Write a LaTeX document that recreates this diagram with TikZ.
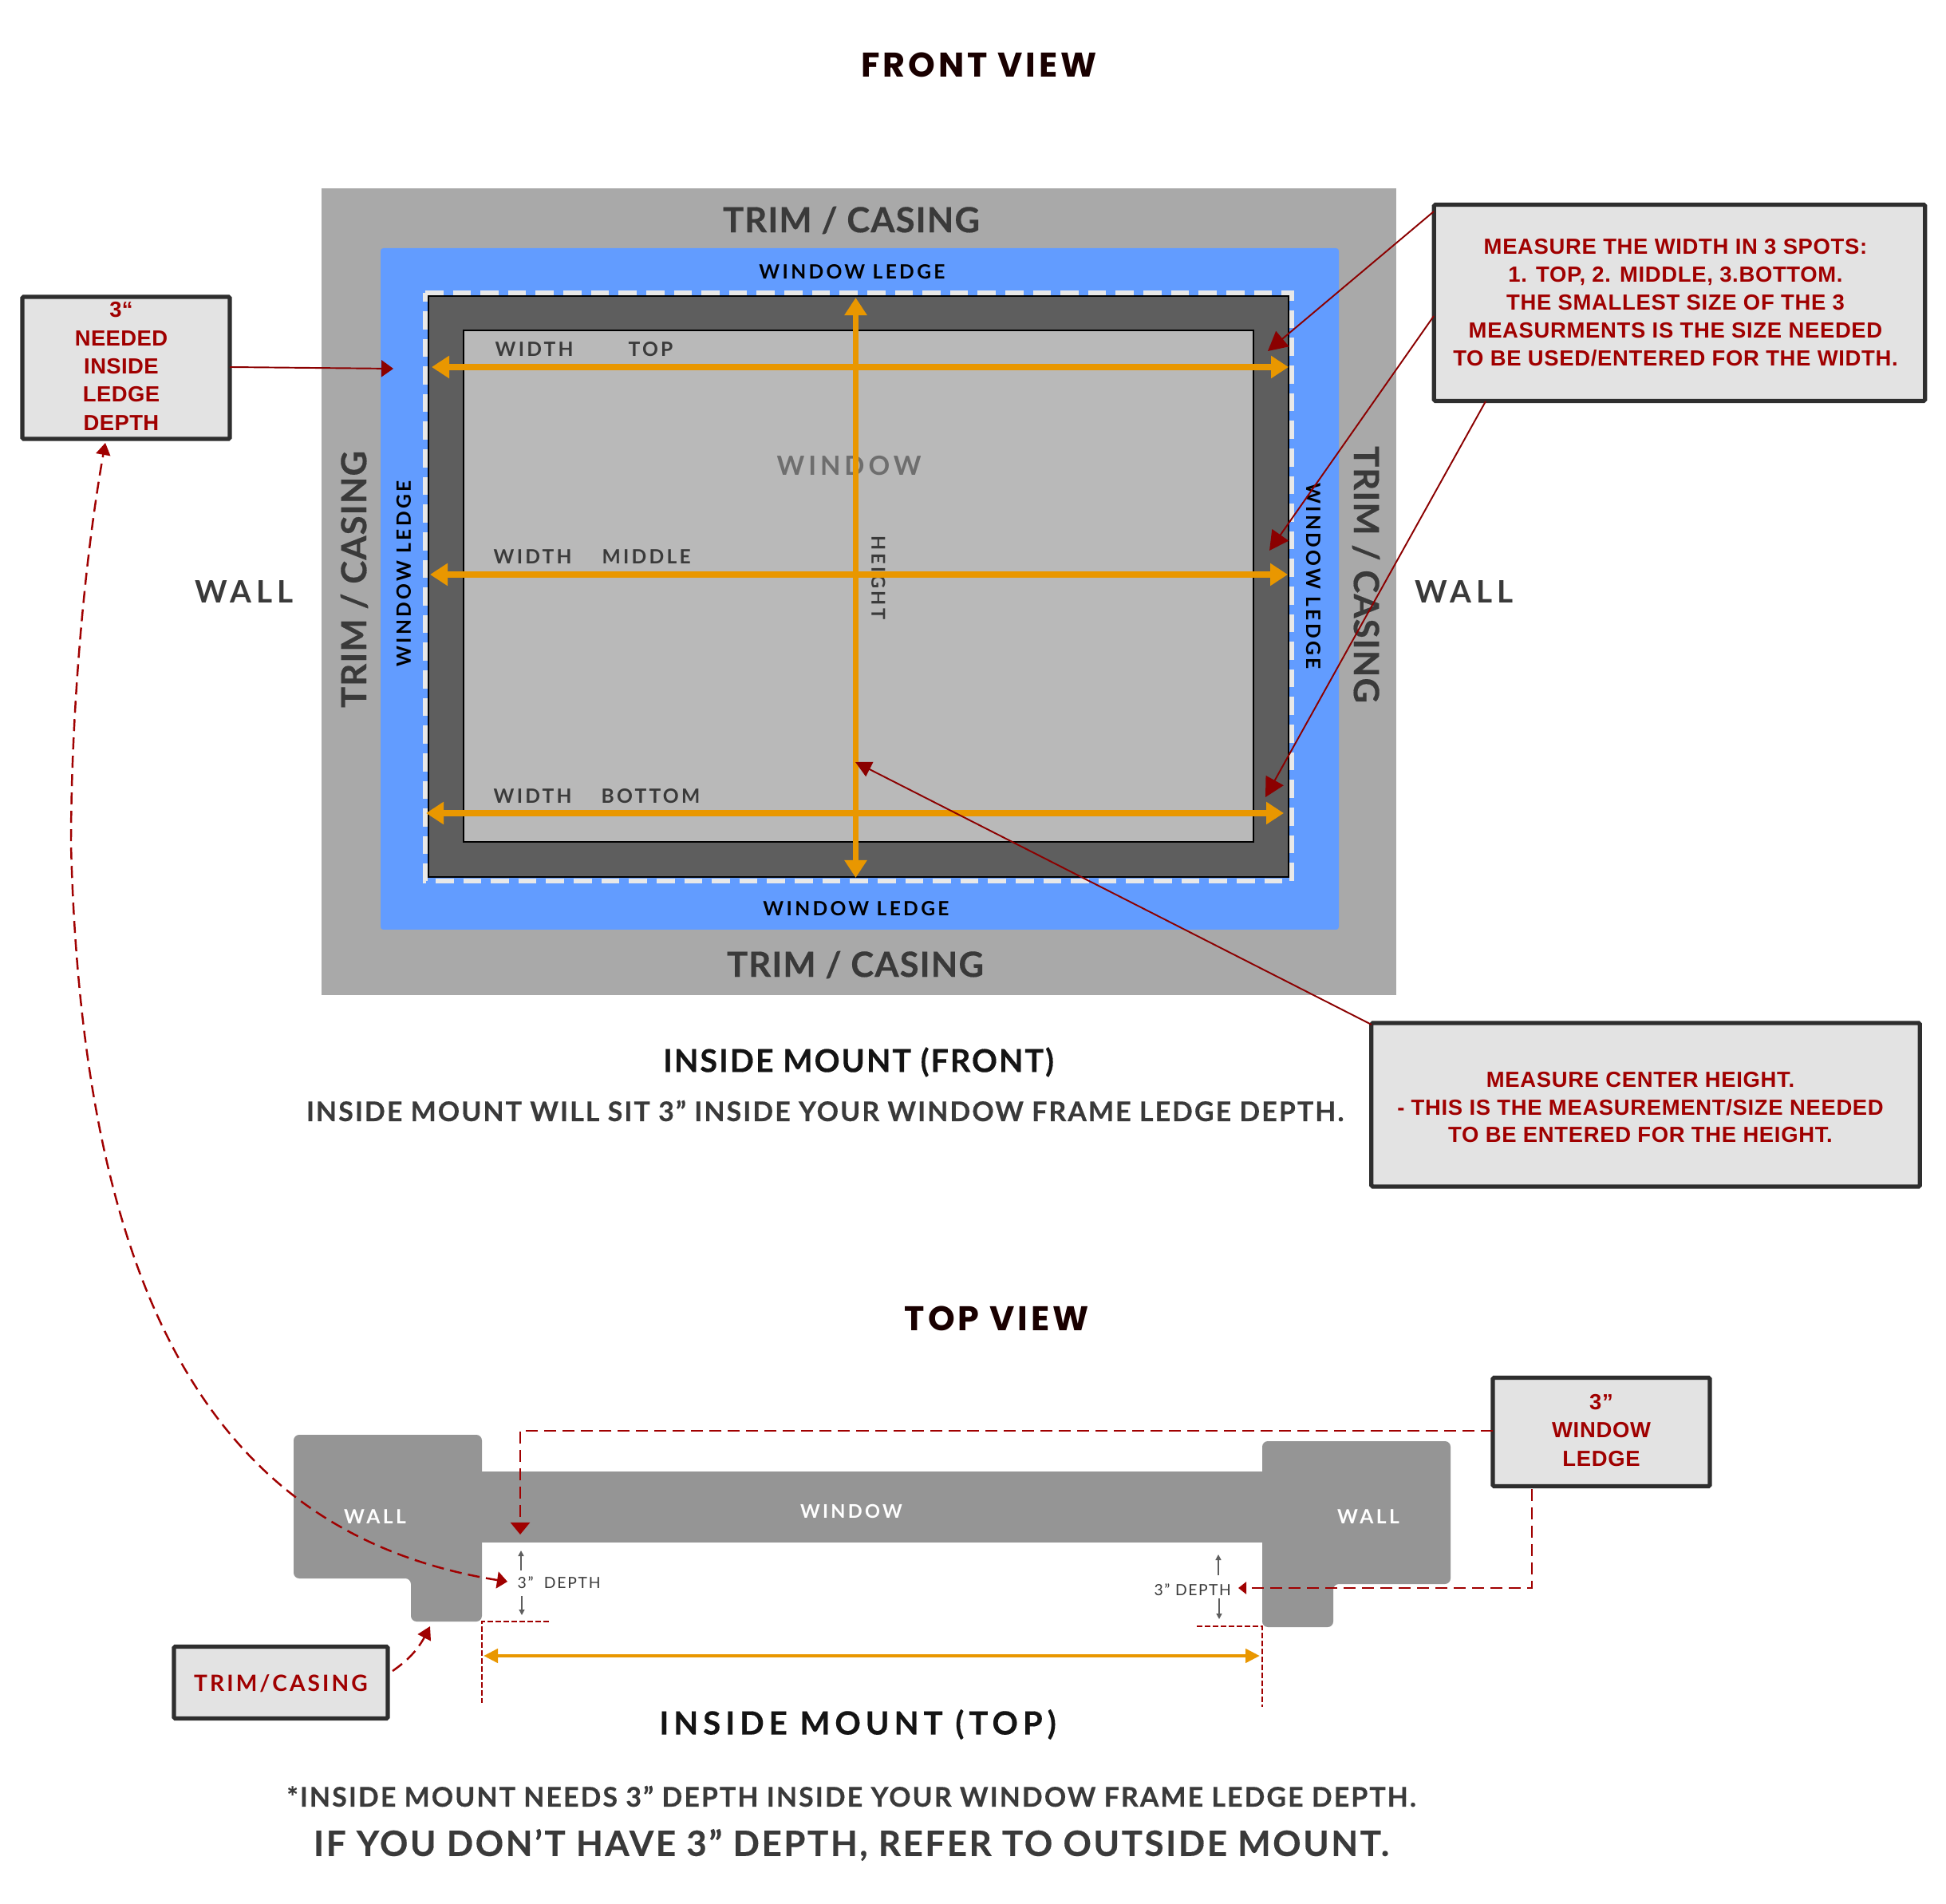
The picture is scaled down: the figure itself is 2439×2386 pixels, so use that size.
\documentclass[tikz,border=0pt]{standalone}
\usepackage{fontspec}
\usetikzlibrary{arrows.meta,bending}
\setmainfont{Lato}
\newfontfamily\callfam{Liberation Sans}
\newfontfamily\headfam{Poppins}
\newcommand{\ft}[2]{\fontsize{#1}{#1}\selectfont\bfseries\addfontfeature{LetterSpace=#2}}
\newcommand{\fh}[2]{\fontsize{#1}{#1}\selectfont\bfseries\addfontfeature{LetterSpace=#2,FakeBold=0.35}}
\newcommand{\fn}[2]{\fontsize{#1}{#1}\selectfont\addfontfeature{LetterSpace=#2}}
\newcommand{\fc}[3]{\callfam\fontsize{#1}{#2}\selectfont\bfseries\addfontfeature{LetterSpace=#3}}
\definecolor{trimc}{HTML}{A9A9A9}
\definecolor{bluec}{HTML}{629CFF}
\definecolor{darkc}{HTML}{5E5E5E}
\definecolor{innerc}{HTML}{B9B9B9}
\definecolor{orangec}{HTML}{E99700}
\definecolor{redl}{HTML}{8B0000}
\definecolor{redd}{HTML}{A00000}
\definecolor{boxc}{HTML}{E3E3E3}
\definecolor{inkc}{HTML}{3A3A3A}
\definecolor{wallc}{HTML}{959595}
\definecolor{dashc}{HTML}{E8E8E8}
\tikzset{
  x=0.01cm,y=-0.01cm,
  callbox/.style={draw=inkc!80!black,fill=boxc,line width=1.5pt,rounded corners=0.5pt,inner sep=0pt,outer sep=0pt},
  calltext/.style={text=redd,align=center,inner sep=0pt},
  solidred/.style={draw=redl,line width=0.55pt,-{Triangle[length=0.24cm,width=0.25cm]}},
  dashred/.style={draw=redd,line width=0.7pt,dash pattern=on 0.15cm off 0.08cm},
  fineded/.style={draw=redd,line width=0.8pt,dash pattern=on 0.07cm off 0.03cm},
  orangearrow/.style={draw=orangec,line width=2pt,{Triangle[length=0.22cm,width=0.27cm]}-{Triangle[length=0.22cm,width=0.27cm]}},
  smallarrow/.style={draw=darkc,line width=0.4pt,-{Triangle[length=0.07cm,width=0.07cm]}},
  lab/.style={inner sep=0pt,text=inkc},
}
\begin{document}
\begin{tikzpicture}
\useasboundingbox (0,0) rectangle (2439,2386);
\fill[white] (0,0) rectangle (2439,2386);
% FRONT VIEW
\node[inner sep=0pt,text=black!90!red] (fronttitle) at (1227,81) {\headfam\ft{12.2}{9}FRONT VIEW};
\fill[trimc] (403,236) rectangle (1750,1247);
\fill[bluec,rounded corners=1pt] (477,311) rectangle (1678,1165);
\draw[dashc,line width=1.6pt,dash pattern=on 0.226cm off 0.12cm] (533,367) -- (1619,367) -- (1619,1104) -- (533,1104) -- cycle;
\draw[fill=darkc,line width=0.8pt] (537,371) rectangle (1615,1099);
\draw[fill=innerc,line width=0.8pt] (581,414) rectangle (1571,1055);
% labels
\node[lab] (ttop) at (1067,276) {\fh{12.4}{2.5}TRIM / CASING};
\node[lab] (tbot) at (1072,1209) {\fh{12.4}{2.5}TRIM / CASING};
\node[lab,rotate=90] (tleft) at (444,726) {\fh{12.4}{2.5}TRIM / CASING};
\node[lab,rotate=-90] (tright) at (1712,720) {\fh{12.4}{2.5}TRIM / CASING};
\node[lab,text=black] (ltop) at (1068,341) {\ft{7}{13.5}WINDOW LEDGE};
\node[lab,text=black] (lbot) at (1073,1139) {\ft{7}{13.5}WINDOW LEDGE};
\node[lab,text=black,rotate=90] (lleft) at (506,719) {\ft{7}{13.5}WINDOW LEDGE};
\node[lab,text=black,rotate=-90] (lright) at (1646,722) {\ft{7}{13.5}WINDOW LEDGE};
\node[lab,anchor=west] (w1) at (620,438) {\ft{7}{13}WIDTH};
\node[lab,anchor=west] (w1b) at (787,438) {\ft{7}{13}TOP};
\node[lab,anchor=west] (w2) at (618,698) {\ft{7}{13}WIDTH};
\node[lab,anchor=west] (w2b) at (754,698) {\ft{7}{13}MIDDLE};
\node[lab,anchor=west] (w3) at (618,998) {\ft{7}{13}WIDTH};
\node[lab,anchor=west] (w3b) at (753,998) {\ft{7}{13}BOTTOM};
\node[lab,text=black!57] (winlab) at (1064,584) {\ft{9.4}{15}WINDOW};
\node[lab,rotate=-90] (hlab) at (1101,724) {\ft{6.7}{14}HEIGHT};
\node[lab] (wallL) at (306,742) {\ft{11}{15}WALL};
\node[lab] (wallR) at (1835,742) {\ft{11}{15}WALL};
% orange arrows
\coordinate (oa1) at (541,460); \coordinate (oa2) at (1615,460);
\coordinate (ob1) at (539,720); \coordinate (ob2) at (1614,720);
\coordinate (oc1) at (534,1019); \coordinate (oc2) at (1609,1019);
\coordinate (od1) at (1072.5,373); \coordinate (od2) at (1072.5,1100);
\draw[orangearrow] (od1) -- (od2);
\draw[orangearrow] (oa1) -- (oa2);
\draw[orangearrow] (ob1) -- (ob2);
\draw[orangearrow] (oc1) -- (oc2);
% captions
\node[lab,text=black!92] (cap1) at (1076,1331) {\fh{11.25}{5}INSIDE MOUNT (FRONT)};
\node[lab] (cap2) at (1034,1392) {\fh{9.65}{6}INSIDE MOUNT WILL SIT 3” INSIDE YOUR WINDOW FRAME LEDGE DEPTH.};
% callouts
\node[callbox,minimum width=6.15cm,minimum height=2.46cm] (b1) at (2105,379.5) {};
\node[calltext,font=\fc{7.8}{9.95}{2.5}] (b1t) at (2100,379) {MEASURE THE WIDTH IN 3 SPOTS:\\1. TOP, 2. MIDDLE, 3.BOTTOM.\\THE SMALLEST SIZE OF THE 3\\MEASURMENTS IS THE SIZE NEEDED\\TO BE USED/ENTERED FOR THE WIDTH.};
\node[callbox,minimum width=6.87cm,minimum height=2.05cm] (b3) at (2062.5,1384.5) {};
\node[calltext,font=\fc{7.8}{9.8}{2.5}] (b3t) at (2056,1388) {MEASURE CENTER HEIGHT.\\- THIS IS THE MEASUREMENT/SIZE NEEDED\\TO BE ENTERED FOR THE HEIGHT.};
\node[callbox,minimum width=2.6cm,minimum height=1.78cm] (b2) at (158,461) {};
\node[calltext,font=\fc{7.8}{10.05}{1.5}] (b2t) at (152,459) {3“\\NEEDED\\INSIDE\\LEDGE\\DEPTH};
% solid red connectors
\coordinate (s1) at (1797,265); \coordinate (e1) at (1589,440);
\coordinate (s2) at (1797,396); \coordinate (e2) at (1591,690);
\coordinate (s3) at (1862,503); \coordinate (e3) at (1586,999);
\coordinate (s4) at (1719,1284); \coordinate (e4) at (1072,955);
\coordinate (s5) at (288,460); \coordinate (e5) at (493,462);
\draw[solidred] (s1) -- (e1);
\draw[solidred] (s2) -- (e2);
\draw[solidred] (s3) -- (e3);
\draw[draw=redl,line width=0.55pt,-{Triangle[length=0.2cm,width=0.2cm]}] (s4) -- (e4);
\draw[draw=redl,line width=0.55pt,-{Triangle[length=0.15cm,width=0.21cm]}] (s5) -- (e5);
% TOP VIEW
\node[inner sep=0pt,text=black!90!red] (toptitle) at (1249,1652) {\headfam\ft{12.2}{9}TOP VIEW};
\fill[wallc,rounded corners=2pt] (368,1798) -- (604,1798) -- (604,2032) -- (515,2032) -- (515,1978) -- (368,1978) -- cycle;
\fill[wallc,rounded corners=2pt] (1582,1806) -- (1818,1806) -- (1818,1985) -- (1671,1985) -- (1671,2039) -- (1582,2039) -- cycle;
\fill[wallc] (600,1844) rectangle (1586,1933);
\node[lab,text=white] (wl) at (470,1901) {\ft{7}{14}WALL};
\node[lab,text=white] (wr) at (1715,1901) {\ft{7}{14}WALL};
\node[lab,text=white] (wn) at (1067,1894) {\ft{6.7}{14}WINDOW};
% depth marks
\node[lab,anchor=west] (d1) at (648,1983) {\fn{5.5}{9}3”\,\, DEPTH};
\node[lab,anchor=west] (d2) at (1446,1992) {\fn{5.5}{8}3” DEPTH};
\coordinate (g1a) at (653,1968); \coordinate (g1b) at (653,1943);
\coordinate (g2a) at (654,2000); \coordinate (g2b) at (654,2024);
\coordinate (g3a) at (1527,1974); \coordinate (g3b) at (1527,1948);
\coordinate (g4a) at (1528,2003); \coordinate (g4b) at (1528,2029);
\draw[smallarrow] (g1a) -- (g1b);
\draw[smallarrow] (g2a) -- (g2b);
\draw[smallarrow] (g3a) -- (g3b);
\draw[smallarrow] (g4a) -- (g4b);
% boxes bottom
\node[callbox,minimum width=2.68cm,minimum height=0.9cm] (b4) at (352,2108.5) {};
\node[calltext] (b4t) at (352,2110) {\ft{8}{11}TRIM/CASING};
\node[callbox,minimum width=2.72cm,minimum height=1.36cm] (b5) at (2007,1794.5) {};
\node[calltext,font=\fc{7.8}{10.1}{2.5}] (b5t) at (2007,1792.5) {3”\\WINDOW\\LEDGE};
% dashed connectors
\coordinate (c1) at (652,1793); \coordinate (t1) at (652,1923);
\draw[dashred,-{Triangle[length=0.15cm,width=0.24cm]}] (b5.west |- c1) -- (c1) -- (t1);
\coordinate (c2s) at (1920,1866); \coordinate (c2) at (1920,1990); \coordinate (t2) at (1552,1990);
\draw[dashred,-{Triangle[length=0.1cm,width=0.15cm]}] (c2s) -- (c2) -- (t2);
\coordinate (t3a) at (688,2032); \coordinate (t3c) at (604,2032); \coordinate (t3b) at (604,2134);
\draw[fineded] (t3a) -- (t3c) -- (t3b);
\coordinate (t4a) at (1500,2038); \coordinate (t4c) at (1582,2038); \coordinate (t4b) at (1582,2139);
\draw[fineded] (t4a) -- (t4c) -- (t4b);
\coordinate (ot1) at (606,2075); \coordinate (ot2) at (1579,2075);
\draw[draw=orangec,line width=1.4pt,{Triangle[length=0.18cm,width=0.17cm]}-{Triangle[length=0.18cm,width=0.17cm]}] (ot1) -- (ot2);
% trim arrow
\coordinate (ta1) at (492,2094); \coordinate (ta2) at (539,2038);
\draw[dashred,-{Triangle[length=0.16cm,width=0.18cm]}] (ta1) to[bend right=15] (ta2);
% long curve
\coordinate (cs) at (636,1982); \coordinate (cm) at (89,1058); \coordinate (ce) at (132,555);
\draw[dashred,{Triangle[length=0.13cm,width=0.21cm]}-{Triangle[length=0.15cm,width=0.18cm]}] (cs) .. controls (310,1935) and (105,1690) .. (cm) .. controls (89,900) and (105,700) .. (ce);
% bottom captions
\node[lab,text=black!92] (cap3) at (1075,2161) {\fh{11.4}{15}INSIDE MOUNT (TOP)};
\node[lab] (cap4) at (1067,2251) {\fh{9.65}{6}*INSIDE MOUNT NEEDS 3” DEPTH INSIDE YOUR WINDOW FRAME LEDGE DEPTH.};
\node[lab] (cap5) at (1067,2312) {\fh{12.45}{6}IF YOU DON’T HAVE 3” DEPTH, REFER TO OUTSIDE MOUNT.};
\end{tikzpicture}
\end{document}
